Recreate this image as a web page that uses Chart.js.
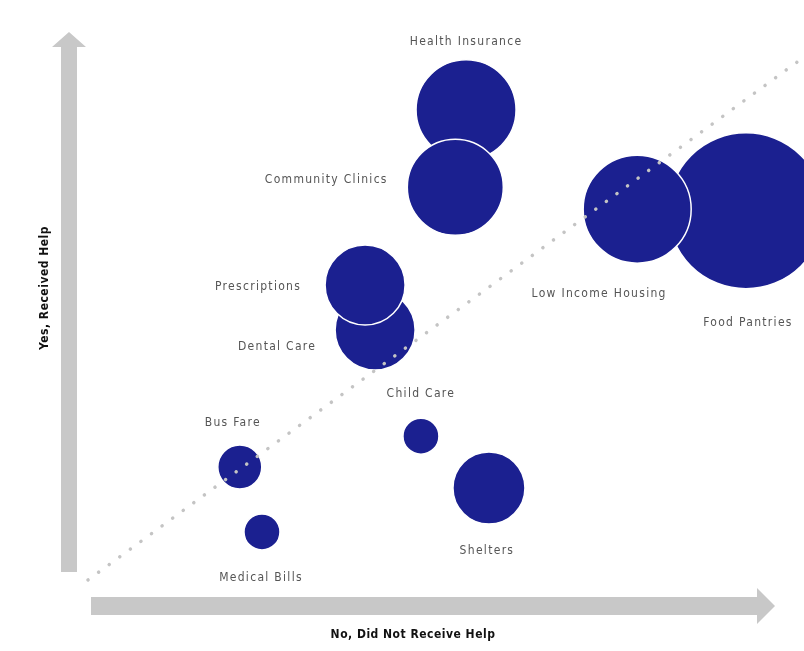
<!DOCTYPE html>
<html>
<head>
<meta charset="utf-8">
<script src="https://cdn.jsdelivr.net/npm/chart.js@4"></script>
<style>
  html, body { margin: 0; padding: 0; background: #ffffff; }
  #wrap { width: 804px; height: 651px; }
</style>
</head>
<body>
<div id="wrap"><canvas id="c" width="804" height="651"></canvas></div>
<script>
// ---- data ----
const categories = ["Health Insurance", "Community Clinics", "Dental Care", "Prescriptions", "Child Care",
                    "Bus Fare", "Medical Bills", "Shelters", "Food Pantries", "Low Income Housing"];
const noHelp  = [52.8, 51.3, 40.1, 38.7, 46.5, 21.2, 24.3, 56.0, 91.9, 76.7];   // x
const yesHelp = [89.9, 75.1, 47.8, 56.4, 27.5, 21.6,  9.2, 17.6, 70.6, 70.9];   // y
const bubbleSize = [50, 48, 40, 40, 18, 22, 18, 36, 78, 54];
const parityLine = [0, 100];
const xTitle = "No, Did Not Receive Help";
const yTitle = "Yes, Received Help";

// label placement (pixel offsets from bubble centre) - style only
const labelOffsets = [
  [0, -68], [-129, -7], [-98, 17], [-107, 2], [0, -42],
  [-7, -44], [-1, 46], [-2, 63], [2, 112], [-38, 85]
];

const bubbleData = categories.map((c, i) => ({ x: noHelp[i], y: yesHelp[i], r: bubbleSize[i] }));
const lineData = parityLine.map(v => ({ x: v, y: v }));

const decor = {
  id: 'decor',
  beforeDatasetsDraw(chart) {
    const ctx = chart.ctx, a = chart.chartArea;
    ctx.save();
    ctx.fillStyle = '#c8c8c8';
    // y arrow
    const yx = a.left - 19, yTop = a.top - 25, yBot = a.bottom - 8, sw = 8;
    ctx.beginPath();
    ctx.moveTo(yx - sw, yBot);
    ctx.lineTo(yx - sw, yTop + 15);
    ctx.lineTo(yx - 17, yTop + 15);
    ctx.lineTo(yx, yTop);
    ctx.lineTo(yx + 17, yTop + 15);
    ctx.lineTo(yx + sw, yTop + 15);
    ctx.lineTo(yx + sw, yBot);
    ctx.closePath();
    ctx.fill();
    // x arrow
    const xy = a.bottom + 26, xL = a.left + 3, xTip = a.right - 29;
    ctx.beginPath();
    ctx.moveTo(xL, xy - 9);
    ctx.lineTo(xTip - 18, xy - 9);
    ctx.lineTo(xTip - 18, xy - 18);
    ctx.lineTo(xTip, xy);
    ctx.lineTo(xTip - 18, xy + 18);
    ctx.lineTo(xTip - 18, xy + 9);
    ctx.lineTo(xL, xy + 9);
    ctx.closePath();
    ctx.fill();
    // titles
    ctx.fillStyle = '#111111';
    ctx.font = 'bold 12px "DejaVu Sans Condensed", "Liberation Sans Narrow", sans-serif';
    ctx.letterSpacing = '0.5px';
    ctx.textAlign = 'center';
    ctx.textBaseline = 'middle';
    ctx.fillText(xTitle, (a.left + a.right) / 2 - 33, a.bottom + 55);
    ctx.translate(a.left - 43, a.top + 231);
    ctx.rotate(-Math.PI / 2);
    ctx.fillText(yTitle, 0, 0);
    ctx.restore();
  },
  afterDatasetsDraw(chart) {
    const ctx = chart.ctx;
    const meta = chart.getDatasetMeta(0);
    ctx.save();
    ctx.fillStyle = '#555555';
    ctx.font = '12px "DejaVu Sans Condensed", "Liberation Sans Narrow", sans-serif';
    ctx.letterSpacing = '1.3px';
    ctx.textAlign = 'center';
    ctx.textBaseline = 'middle';
    meta.data.forEach((el, i) => {
      const o = labelOffsets[i];
      ctx.fillText(categories[i], el.x + o[0], el.y + o[1]);
    });
    ctx.restore();
  }
};

new Chart(document.getElementById('c'), {
  data: {
    datasets: [
      {
        type: 'bubble',
        label: 'Assistance',
        data: bubbleData,
        backgroundColor: '#1b2090',
        borderColor: '#ffffff',
        borderWidth: 1.5,
        hoverRadius: 0,
        clip: false,
        order: 1
      },
      {
        type: 'line',
        label: 'Parity',
        data: lineData,
        borderColor: '#c4c4c4',
        borderWidth: 3.5,
        borderDash: [0.1, 13],
        borderCapStyle: 'round',
        pointRadius: 0,
        fill: false,
        clip: false,
        order: 0
      }
    ]
  },
  options: {
    responsive: false,
    animation: false,
    events: [],
    layout: { autoPadding: false, padding: { left: 88, right: 0, top: 57, bottom: 71 } },
    scales: {
      x: { type: 'linear', min: 0, max: 100, display: false },
      y: { type: 'linear', min: 0, max: 100, display: false }
    },
    plugins: {
      legend: { display: false },
      tooltip: { enabled: false }
    }
  },
  plugins: [decor]
});
</script>
</body>
</html>
